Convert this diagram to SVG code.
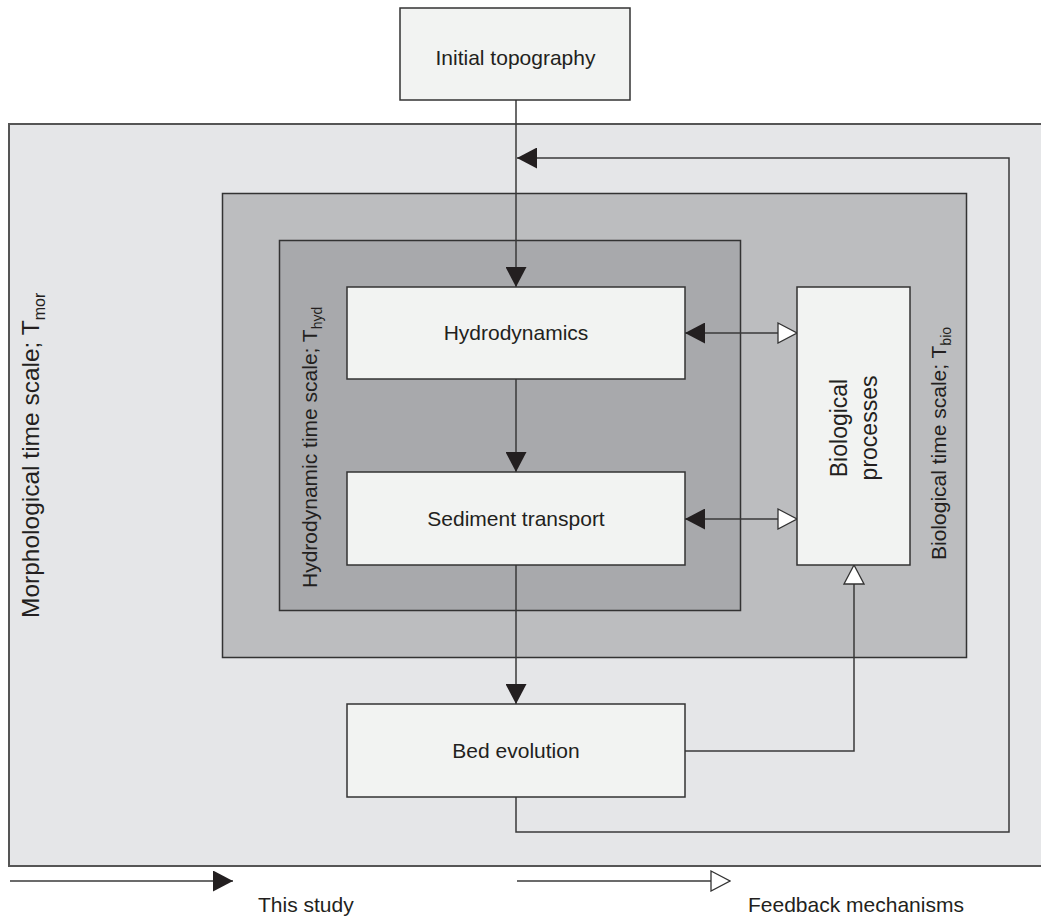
<svg xmlns="http://www.w3.org/2000/svg" width="1041" height="920" viewBox="0 0 1041 920">
<style>
  .lbl { font-family: "Liberation Sans", Arial, sans-serif; font-size: 21px; fill: #231f20; }
  .big { font-size: 24.5px; }
  .mid { font-size: 23px; }
  .node { fill: #f2f3f2; stroke: #333333; stroke-width: 1.5; }
  .conn { fill: none; stroke: #3a3a3a; stroke-width: 1.5; }
  .sub { font-size: 14px; }
  .bsub { font-size: 16px; }
</style>
<defs>
  <marker id="blk" viewBox="0 0 20 21" refX="20" refY="10.5" markerWidth="20" markerHeight="21" markerUnits="userSpaceOnUse" orient="auto">
    <path d="M0,0 L20,10.5 L0,21 Z" fill="#231f20"/>
  </marker>
  <marker id="wht" viewBox="0 0 21 22" refX="20" refY="11" markerWidth="21" markerHeight="22" markerUnits="userSpaceOnUse" orient="auto">
    <path d="M1,1 L20,11 L1,21 Z" fill="#ffffff" stroke="#333333" stroke-width="1.3"/>
  </marker>
</defs>
<rect width="1041" height="920" fill="#ffffff"/>

<g id="scale-mor">
  <rect x="9" y="124" width="1045" height="742" fill="#e5e6e8" stroke="#555555" stroke-width="2"/>
  <text class="lbl big" transform="translate(38.5,618) rotate(-90)">Morphological time scale; T<tspan class="bsub" dy="6">mor</tspan></text>
</g>
<g id="scale-bio">
  <rect x="222.5" y="193.5" width="744" height="464" fill="#bcbdbf" stroke="#333333" stroke-width="1.5"/>
  <text class="lbl" transform="translate(946,560) rotate(-90)">Biological time scale; T<tspan class="sub" dy="5">bio</tspan></text>
</g>
<g id="scale-hyd">
  <rect x="279.5" y="240.5" width="461" height="370" fill="#a8a9ac" stroke="#333333" stroke-width="1.5"/>
  <text class="lbl" transform="translate(317,588) rotate(-90)">Hydrodynamic time scale; T<tspan class="sub" dy="5">hyd</tspan></text>
</g>

<g id="connectors">
  <line class="conn" x1="516" y1="100" x2="516" y2="287" marker-end="url(#blk)"/>
  <line class="conn" x1="516" y1="379" x2="516" y2="472" marker-end="url(#blk)"/>
  <line class="conn" x1="516" y1="565" x2="516" y2="704" marker-end="url(#blk)"/>
  <polyline class="conn" points="516,797 516,832 1009,832 1009,158 517,158" marker-end="url(#blk)"/>
  <polyline class="conn" points="685,751 854,751 854,565" marker-end="url(#wht)"/>
  <line class="conn" x1="741" y1="333" x2="685" y2="333" marker-end="url(#blk)"/>
  <line class="conn" x1="741" y1="333" x2="797" y2="333" marker-end="url(#wht)"/>
  <line class="conn" x1="741" y1="519" x2="685" y2="519" marker-end="url(#blk)"/>
  <line class="conn" x1="741" y1="519" x2="797" y2="519" marker-end="url(#wht)"/>
</g>

<g id="initial-topography">
  <rect class="node" x="400" y="8" width="230" height="92"/>
  <text class="lbl" x="515.5" y="65" text-anchor="middle">Initial topography</text>
</g>
<g id="hydrodynamics">
  <rect class="node" x="347" y="287" width="338" height="92"/>
  <text class="lbl" x="516" y="340" text-anchor="middle">Hydrodynamics</text>
</g>
<g id="sediment-transport">
  <rect class="node" x="347" y="472" width="338" height="93"/>
  <text class="lbl" x="516" y="526" text-anchor="middle">Sediment transport</text>
</g>
<g id="biological-processes">
  <rect class="node" x="797" y="287" width="113" height="278"/>
  <text class="lbl mid" transform="translate(847,428) rotate(-90)" text-anchor="middle">Biological</text>
  <text class="lbl mid" transform="translate(876.5,428) rotate(-90)" text-anchor="middle">processes</text>
</g>
<g id="bed-evolution">
  <rect class="node" x="347" y="704" width="338" height="93"/>
  <text class="lbl" x="516" y="758" text-anchor="middle">Bed evolution</text>
</g>

<g id="legend">
  <line class="conn" x1="10" y1="881" x2="233" y2="881" marker-end="url(#blk)"/>
  <text class="lbl" x="258" y="912">This study</text>
  <line class="conn" x1="517" y1="881" x2="730" y2="881" marker-end="url(#wht)"/>
  <text class="lbl" x="748" y="912">Feedback mechanisms</text>
</g>
</svg>
